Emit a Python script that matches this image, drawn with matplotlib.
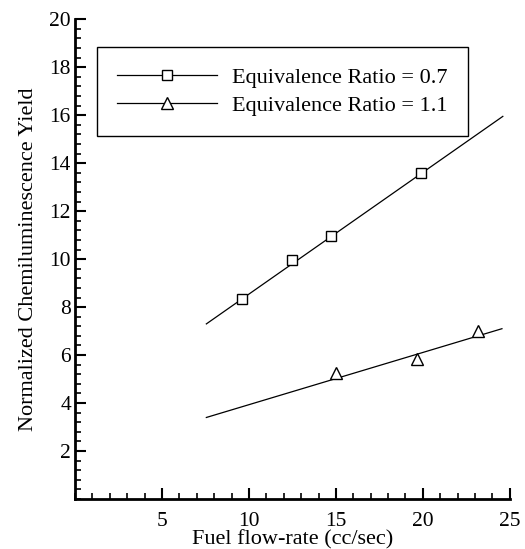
import matplotlib.pyplot as plt
from matplotlib.ticker import MultipleLocator

# measured points
flow_07 = [9.6, 12.5, 14.7, 19.9]
yield_07 = [8.35, 9.95, 10.95, 13.6]
flow_11 = [15.0, 19.65, 23.2]
yield_11 = [5.25, 5.85, 7.0]

# linear fit lines (end points)
fit_x_07 = [7.55, 24.6]
fit_y_07 = [7.3, 15.95]
fit_x_11 = [7.55, 24.55]
fit_y_11 = [3.4, 7.1]

plt.rcParams['font.family'] = ['Liberation Serif', 'DejaVu Serif']

fig = plt.figure(figsize=(5.25, 5.49), dpi=100)
ax = fig.add_axes([0.143, 0.091, 0.828, 0.874])

ax.plot(fit_x_07, fit_y_07, color='black', lw=0.9)
ax.plot(fit_x_11, fit_y_11, color='black', lw=0.9)
ax.plot(flow_07, yield_07, ls='none', marker='s', ms=7, mfc='white', mec='black', mew=1.0)
ax.plot(flow_11, yield_11, ls='none', marker='^', ms=8, mfc='white', mec='black', mew=1.0)

# legend entries: line + marker combined
h1, = ax.plot([], [], color='black', lw=0.9, marker='s', ms=7, mfc='white', mec='black', mew=1.0)
h2, = ax.plot([], [], color='black', lw=0.9, marker='^', ms=8, mfc='white', mec='black', mew=1.0)
leg = ax.legend([h1, h2], ['Equivalence Ratio = 0.7', 'Equivalence Ratio = 1.1'],
                loc='upper left', bbox_to_anchor=(0.05, 0.942), borderaxespad=0,
                fontsize=16, handlelength=4.5, handletextpad=0.7, labelspacing=0.35,
                fancybox=False, framealpha=1, edgecolor='black', borderpad=0.9)
leg.get_frame().set_linewidth(1.0)

ax.set_xlim(0, 25)
ax.set_ylim(0, 20)
ax.set_xticks([5, 10, 15, 20, 25])
ax.set_yticks([2, 4, 6, 8, 10, 12, 14, 16, 18, 20])
ax.xaxis.set_minor_locator(MultipleLocator(1))
ax.yaxis.set_minor_locator(MultipleLocator(0.4))
ax.tick_params(which='major', direction='in', length=8, width=1.5, labelsize=15.5, pad=3)
ax.tick_params(which='minor', direction='in', length=4, width=1.2)
ax.tick_params(axis='x', which='major', pad=9)

for s in ['top', 'right']:
    ax.spines[s].set_visible(False)
for s in ['left', 'bottom']:
    ax.spines[s].set_linewidth(2)

ax.set_xlabel('Fuel flow-rate (cc/sec)', fontsize=16, labelpad=0)
ax.set_ylabel('Normalized Chemiluminescence Yield', fontsize=16, labelpad=8)

fig.savefig('out.png', dpi=100)
